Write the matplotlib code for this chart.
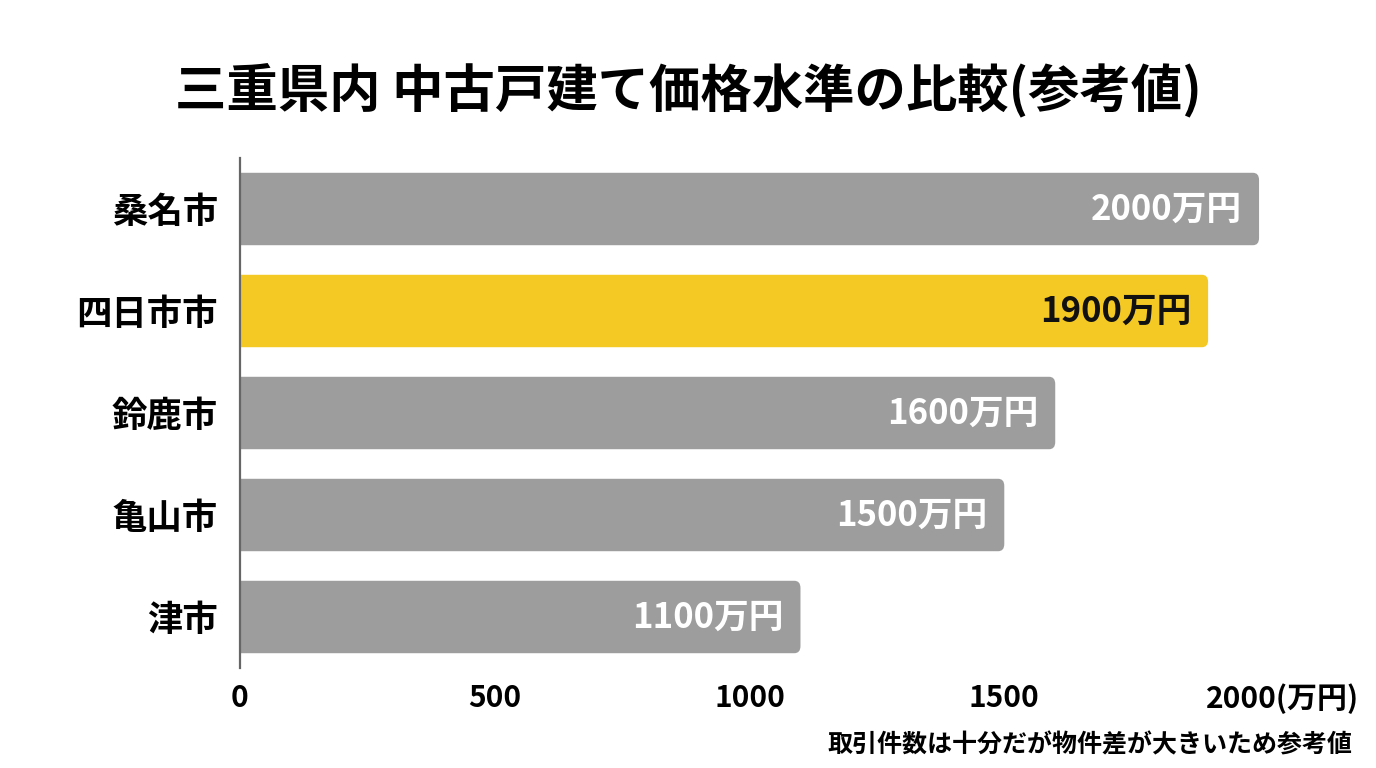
import matplotlib
matplotlib.use('Agg')
import matplotlib.pyplot as plt
from matplotlib.patches import FancyBboxPatch
from matplotlib.transforms import ScaledTranslation

plt.rcParams['font.family'] = ['Noto Sans CJK JP', 'DejaVu Sans']

# data
cities = ['桑名市', '四日市市', '鈴鹿市', '亀山市', '津市']
prices = [2000, 1900, 1600, 1500, 1100]
highlight = '四日市市'
xticks = [0, 500, 1000, 1500, 2000]
xtick_labels = ['0', '500', '1000', '1500', '2000(万円)']
title = '三重県内 中古戸建て価格水準の比較(参考値)'
note = '取引件数は十分だが物件差が大きいため参考値'

gray = '#9d9d9d'
yellow = '#f5c924'

fig = plt.figure(figsize=(13.76, 7.68), dpi=100)
ax = fig.add_axes([240 / 1376, 1 - 668 / 768, (1310 - 240) / 1376, 510 / 768])

bar_h = 0.71
for i, (city, val) in enumerate(zip(cities, prices)):
    col = yellow if city == highlight else gray
    # start a bit left of 0 so the left corners are hidden by the clip
    p = FancyBboxPatch((-30, i - bar_h / 2), val + 30, bar_h,
                       boxstyle='round,pad=0,rounding_size=12',
                       mutation_aspect=0.0059,
                       facecolor=col, edgecolor='none', zorder=2)
    ax.add_patch(p)
    tcol = '#111111' if city == highlight else 'white'
    ax.annotate(f'{val}万円', xy=(val, i), xytext=(-12, 0),
                textcoords='offset points', ha='right', va='center',
                fontsize=25, fontweight='bold', color=tcol, zorder=3)

ax.set_xlim(0, 2100)
ax.set_ylim(4.5, -0.5)
ax.set_yticks(range(len(cities)))
ax.set_yticklabels(cities, fontsize=25.5, fontweight='bold')
ax.set_xticks(xticks)
ax.set_xticklabels(xtick_labels, fontsize=21.5, fontweight='bold')
ax.tick_params(axis='both', length=0)
ax.tick_params(axis='y', pad=16)
ax.tick_params(axis='x', pad=11)

# the last label carries the unit, nudge it right
last = ax.get_xticklabels()[-1]
last.set_transform(last.get_transform() + ScaledTranslation(0.23, 0, fig.dpi_scale_trans))

for s in ['top', 'right', 'bottom']:
    ax.spines[s].set_visible(False)
ax.spines['left'].set_color('#666666')
ax.spines['left'].set_linewidth(1.6)
ax.spines['left'].set_zorder(4)

fig.text(0.5, 1 - 90 / 768, title, ha='center', va='center',
         fontsize=37, fontweight='bold')
fig.text(1352 / 1376, 1 - 745 / 768, note, ha='right', va='center',
         fontsize=18, fontweight='bold')

fig.savefig('out.png', dpi=100, facecolor='white')
